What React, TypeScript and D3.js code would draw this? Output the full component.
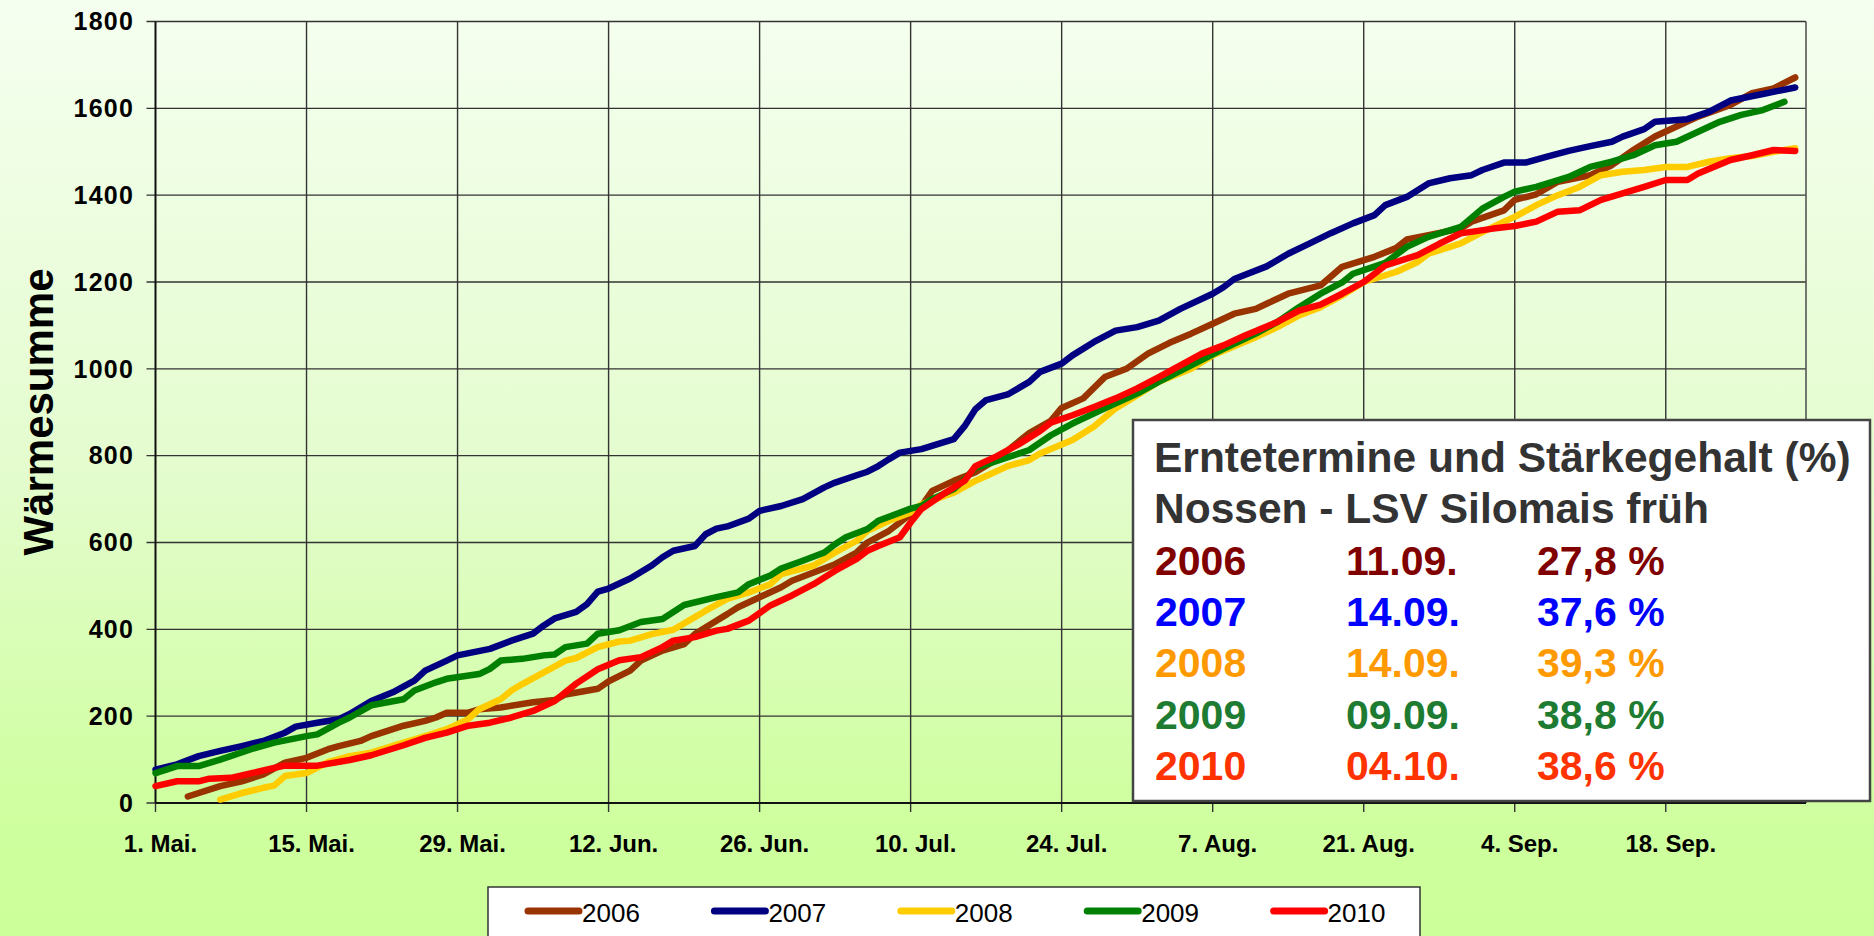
import React from "react";
import * as d3 from "d3";

const W = 1874;
const H = 936;
const FONT = "'Liberation Sans', Arial, sans-serif";

const years = ["2006", "2007", "2008", "2009", "2010"];
const lineColors = ["#993300", "#000080", "#ffcc00", "#008000", "#ff0000"];
const textColors = ["#800000", "#0000ff", "#ff9900", "#1e7b32", "#ff3300"];
const harvestDates = ["11.09.", "14.09.", "14.09.", "09.09.", "04.10."];
const starch = ["27,8 %", "37,6 %", "39,3 %", "38,8 %", "38,6 %"];

// x axis = days since 1 May
const tickDays = [0, 14, 28, 42, 56, 70, 84, 98, 112, 126, 140];
const tickLabels = ["1. Mai.", "15. Mai.", "29. Mai.", "12. Jun.", "26. Jun.", "10. Jul.", "24. Jul.", "7. Aug.", "21. Aug.", "4. Sep.", "18. Sep."];
const yTicks = [0, 200, 400, 600, 800, 1000, 1200, 1400, 1600, 1800];

// [day, Wärmesumme]
const w2006: [number, number][] = [[3,15],[6,39],[8,50],[10,66],[12,93],[14,104],[16,124],[17,131],[19,143],[20,154],[23,178],[25,189],[26,197],[27,208],[29,208],[30,216],[32,220],[35,232],[37,237],[38,250],[41,263],[42,280],[44,305],[45,328],[47,351],[49,366],[50,389],[52,420],[53,435],[54,451],[56,474],[58,497],[59,512],[61,531],[63,550],[65,577],[66,600],[68,627],[69,646],[71,684],[72,719],[74,742],[76,762],[78,792],[79,812],[81,852],[83,880],[84,910],[86,932],[88,981],[90,1000],[92,1035],[94,1060],[96,1081],[98,1104],[100,1127],[102,1138],[103,1150],[105,1173],[108,1192],[110,1235],[113,1258],[115,1278],[116,1298],[118,1308],[121,1323],[122,1339],[125,1365],[126,1389],[128,1402],[130,1431],[133,1446],[135,1469],[137,1504],[139,1535],[141,1558],[143,1581],[146,1608],[148,1635],[150,1646],[152,1671]];
const w2007: [number, number][] = [[0,77],[2,89],[4,108],[6,120],[8,131],[10,143],[12,162],[13,176],[15,185],[17,193],[18,205],[20,235],[22,255],[24,282],[25,305],[27,328],[28,340],[31,355],[33,374],[35,390],[36,409],[37,425],[39,440],[40,458],[41,487],[42,494],[44,517],[46,547],[47,566],[48,581],[50,592],[51,619],[52,632],[53,637],[55,655],[56,673],[58,684],[60,700],[62,727],[63,738],[65,755],[66,763],[67,776],[68,792],[69,807],[71,815],[74,838],[75,868],[76,907],[77,928],[79,941],[81,970],[82,993],[84,1012],[85,1031],[87,1062],[89,1088],[91,1096],[93,1111],[95,1138],[98,1173],[99,1188],[100,1207],[103,1236],[105,1265],[107,1289],[109,1313],[111,1335],[113,1354],[114,1377],[116,1396],[118,1427],[120,1439],[122,1446],[123,1458],[125,1475],[127,1475],[129,1489],[131,1502],[133,1513],[135,1523],[136,1535],[138,1552],[139,1569],[142,1575],[144,1592],[146,1618],[149,1633],[152,1648]];
const w2008: [number, number][] = [[6,8],[8,23],[10,35],[11,40],[12,62],[14,69],[16,94],[18,108],[20,116],[23,139],[25,154],[27,170],[29,193],[30,216],[32,239],[33,259],[34,274],[36,301],[38,328],[39,334],[41,359],[43,372],[44,374],[46,389],[48,399],[50,428],[51,443],[53,470],[55,485],[57,504],[58,527],[61,547],[63,577],[65,604],[66,627],[68,650],[70,669],[71,688],[74,715],[76,742],[77,753],[79,776],[81,790],[82,805],[85,836],[87,867],[89,909],[91,939],[93,970],[96,1000],[98,1031],[102,1073],[104,1096],[106,1123],[108,1142],[110,1169],[112,1200],[115,1223],[117,1246],[118,1265],[121,1289],[123,1315],[125,1339],[126,1350],[128,1377],[130,1400],[132,1419],[134,1446],[136,1454],[138,1458],[140,1465],[142,1465],[144,1477],[146,1485],[148,1490],[150,1500],[152,1508]];
const w2009: [number, number][] = [[0,69],[2,85],[4,85],[6,100],[9,125],[11,139],[14,154],[15,158],[17,185],[18,197],[20,225],[23,239],[24,259],[26,278],[27,286],[30,297],[31,309],[32,328],[34,332],[36,340],[37,342],[38,359],[40,367],[41,390],[43,398],[45,417],[47,424],[49,456],[52,474],[54,485],[55,504],[57,524],[58,540],[60,558],[62,577],[63,596],[64,612],[66,631],[67,650],[70,678],[71,684],[72,700],[74,723],[75,745],[76,772],[78,788],[81,813],[83,847],[85,874],[88,909],[91,943],[93,970],[96,1008],[99,1046],[102,1081],[104,1108],[106,1142],[108,1173],[110,1199],[111,1219],[114,1244],[116,1281],[118,1304],[121,1327],[123,1369],[125,1396],[126,1408],[128,1419],[131,1442],[133,1465],[135,1477],[137,1492],[139,1515],[141,1523],[143,1546],[145,1569],[147,1585],[149,1596],[151,1615]];
const w2010: [number, number][] = [[0,39],[2,50],[4,50],[5,56],[7,58],[9,69],[11,81],[12,86],[15,86],[18,99],[20,110],[23,133],[25,150],[27,162],[29,178],[31,185],[33,197],[35,212],[37,235],[38,255],[39,275],[41,308],[43,329],[45,336],[47,359],[48,374],[50,382],[52,397],[53,401],[55,420],[57,455],[59,478],[61,504],[63,535],[65,562],[66,581],[67,592],[69,612],[70,646],[71,677],[73,711],[75,742],[76,776],[78,799],[80,826],[82,857],[83,876],[85,893],[87,912],[89,932],[91,955],[93,981],[95,1008],[97,1035],[99,1054],[101,1077],[104,1108],[106,1134],[108,1148],[110,1173],[112,1200],[114,1238],[117,1262],[119,1288],[121,1312],[124,1323],[126,1329],[128,1339],[130,1362],[132,1365],[134,1389],[136,1404],[138,1419],[140,1435],[142,1435],[143,1450],[146,1481],[148,1492],[150,1504],[152,1502]];

const seriesData = [w2006, w2007, w2008, w2009, w2010];

const plot = { left: 155.5, right: 1806, top: 21.5, bottom: 803 };

const App = () => {
  const x = d3.scaleLinear().domain([0, 153]).range([plot.left, plot.right]);
  const y = d3.scaleLinear().domain([0, 1800]).range([plot.bottom, plot.top]);
  const line = d3.line<[number, number]>()
    .x(d => x(d[0]))
    .y(d => y(d[1]));

  const boxX = 1133, boxY = 420;

  return (
    <svg width={W} height={H} style={{ position: "absolute", left: 0, top: 0, fontFamily: FONT }}>
      <defs>
        <linearGradient id="bg" x1="0" y1="0" x2="0" y2="1">
          <stop offset="0" stopColor="#f5fff0" />
          <stop offset="0.5" stopColor="#e4fcce" />
          <stop offset="0.86" stopColor="#cfffa0" />
          <stop offset="1" stopColor="#ccff99" />
        </linearGradient>
      </defs>
      <rect x={0} y={0} width={W} height={H} fill="url(#bg)" />

      {/* grid */}
      {yTicks.map(t => (
        <line key={"gy" + t} x1={plot.left - 9} x2={plot.right} y1={y(t)} y2={y(t)} stroke="#333" strokeWidth={1.4} />
      ))}
      {tickDays.map(d => (
        <line key={"gx" + d} x1={x(d)} x2={x(d)} y1={plot.top} y2={plot.bottom + 9} stroke="#333" strokeWidth={1.4} />
      ))}
      <line x1={plot.right} x2={plot.right} y1={plot.top} y2={plot.bottom} stroke="#555" strokeWidth={1.6} />
      <line x1={plot.left} x2={plot.left} y1={plot.top} y2={plot.bottom} stroke="#111" strokeWidth={1.8} />
      <line x1={plot.left} x2={plot.right} y1={plot.bottom} y2={plot.bottom} stroke="#111" strokeWidth={1.8} />

      {/* y tick labels */}
      {yTicks.map(t => (
        <text key={"ty" + t} x={134} y={y(t)} dy="0.35em" textAnchor="end" fontSize={25} fontWeight="bold" letterSpacing={1.2} fill="#000">{t}</text>
      ))}
      {/* x tick labels */}
      {tickDays.map((d, i) => (
        <text key={"tx" + d} x={x(d) + 5} y={852} textAnchor="middle" fontSize={24} fontWeight="bold" fill="#000">{tickLabels[i]}</text>
      ))}

      <text transform="translate(53,412) rotate(-90)" textAnchor="middle" fontSize={42} fontWeight="bold" fill="#000">Wärmesumme</text>

      {/* series */}
      {seriesData.map((s, i) => (
        <path key={years[i]} d={line(s) || ""} fill="none" stroke={lineColors[i]} strokeWidth={6.5} strokeLinejoin="round" strokeLinecap="round" />
      ))}

      {/* annotation box */}
      <rect x={boxX} y={boxY} width={737} height={381} fill="#fff" stroke="#444" strokeWidth={2.5} />
      <text x={1154} y={472} fontSize={42.5} fontWeight="bold" fill="#333">Erntetermine und Stärkegehalt (%)</text>
      <text x={1154} y={523} fontSize={42.5} fontWeight="bold" fill="#333">Nossen - LSV Silomais früh</text>
      {years.map((yr, i) => (
        <g key={"ann" + yr} fontSize={41} fontWeight="bold" fill={textColors[i]}>
          <text x={1155} y={575 + i * 51.2}>{yr}</text>
          <text x={1346} y={575 + i * 51.2}>{harvestDates[i]}</text>
          <text x={1537} y={575 + i * 51.2}>{starch[i]}</text>
        </g>
      ))}

      {/* legend */}
      <rect x={488} y={887} width={932} height={60} fill="#fff" stroke="#333" strokeWidth={1.5} />
      {years.map((yr, i) => (
        <g key={"leg" + yr} transform={`translate(${528 + i * 186.4},0)`}>
          <line x1={0} x2={51} y1={911} y2={911} stroke={lineColors[i]} strokeWidth={7} strokeLinecap="round" />
          <text x={54} y={922} fontSize={26} fill="#000">{yr}</text>
        </g>
      ))}
    </svg>
  );
};

export default App;
